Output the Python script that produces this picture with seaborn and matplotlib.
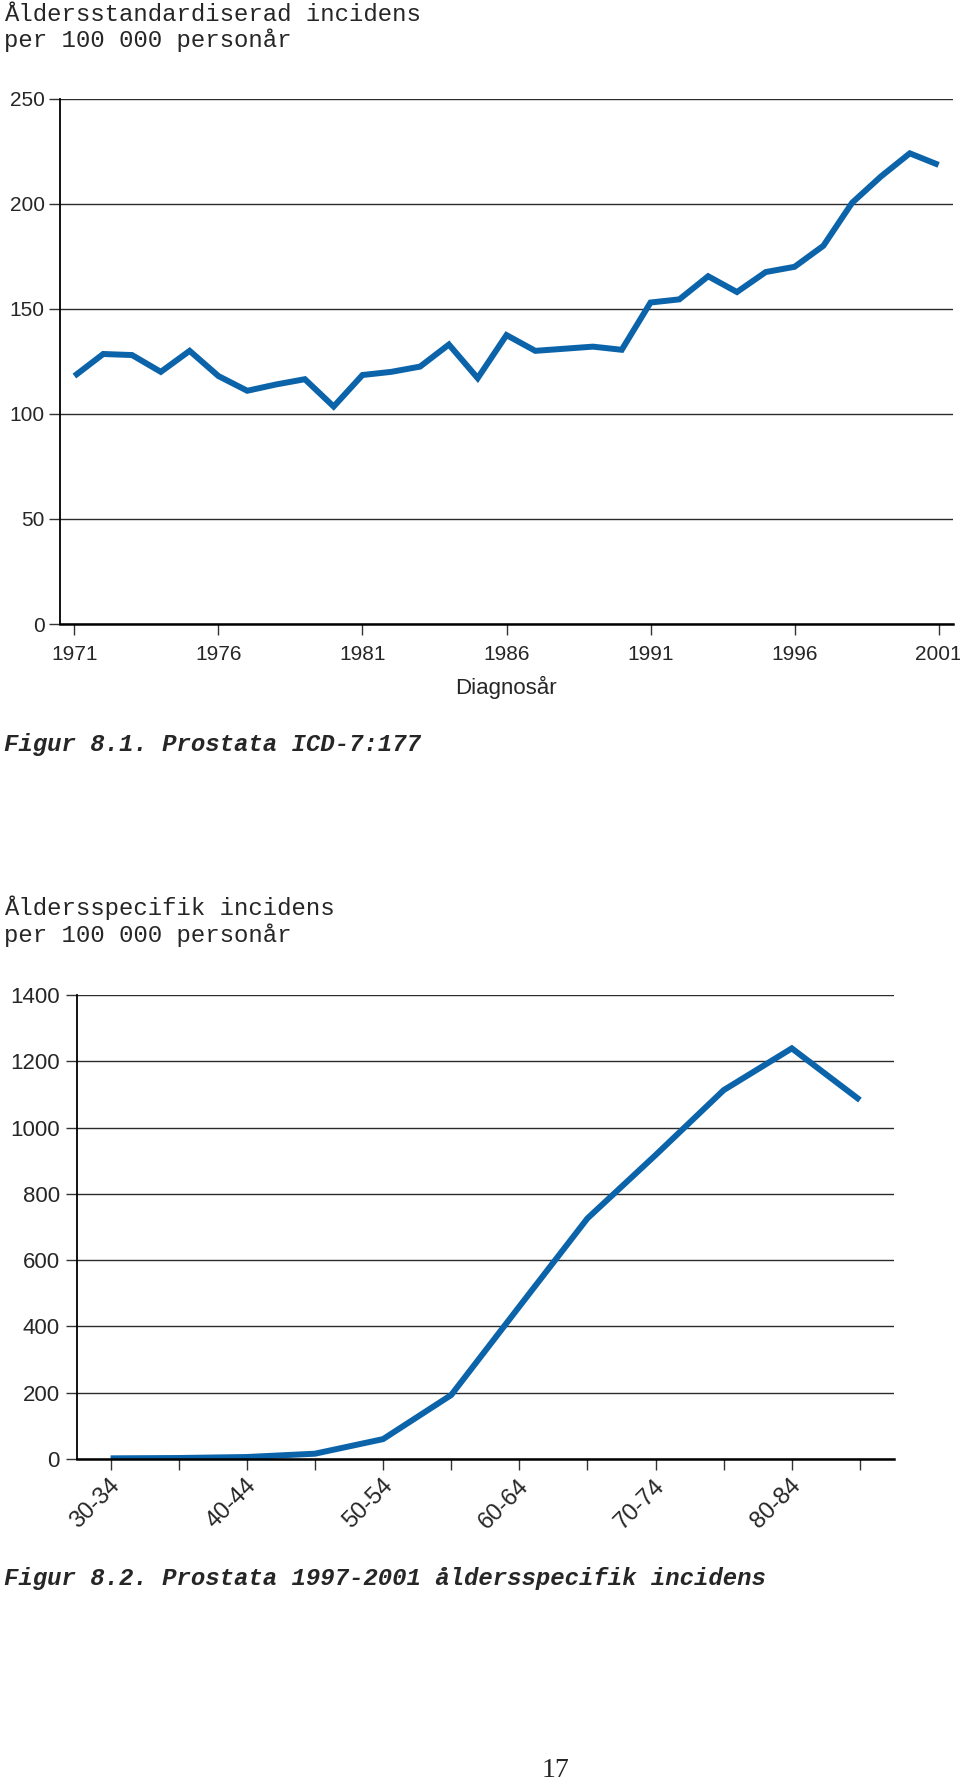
import matplotlib
matplotlib.use("Agg")
import matplotlib.pyplot as plt
import matplotlib.transforms as mtransforms
import seaborn as sns
import pandas as pd
import numpy as np

# ---------------- data ----------------
years = list(range(1971, 2002))
incidence_std = [118, 128.5, 128, 120, 130, 118, 111, 114, 116.5, 103.5,
                 118.5, 120, 122.5, 133, 117, 137.5, 130, 131, 132, 130.5,
                 153, 154.5, 165.5, 158, 167.5, 170, 180, 200.5, 213, 224, 218.5]
year_ticks = [1971, 1976, 1981, 1986, 1991, 1996, 2001]
top_yticks = [0, 50, 100, 150, 200, 250]

age_groups = ["30-34", "35-39", "40-44", "45-49", "50-54", "55-59",
              "60-64", "65-69", "70-74", "75-79", "80-84", "85+"]
incidence_age = [2, 3, 6, 16, 60, 193, 460, 726, 917, 1113, 1239, 1083]
bottom_yticks = [0, 200, 400, 600, 800, 1000, 1200, 1400]

title1 = ["Åldersstandardiserad incidens", "per 100 000 personår"]
title2 = ["Åldersspecifik incidens", "per 100 000 personår"]
caption1 = "Figur 8.1. Prostata ICD-7:177"
caption2 = "Figur 8.2. Prostata 1997-2001 åldersspecifik incidens"
xlabel1 = "Diagnosår"
page_no = "17"

# ---------------- style ----------------
sns.set_style("white")
plt.rcParams["font.family"] = ["Liberation Sans", "DejaVu Sans"]

W, H = 960, 1780
fig = plt.figure(figsize=(W / 100, H / 100), dpi=100)
LINE_COLOR = "#0b63a9"
GRID_COLOR = "#2b2b2b"
MONO = ["Liberation Mono", "DejaVu Sans Mono"]
MONO_SIZE = 17.3


def fx(px):
    return px / W


def fy(py):
    return 1 - py / H


def style_axes(ax, ysize, ylen_pad, xpad):
    for s in ["top", "right"]:
        ax.spines[s].set_visible(False)
    ax.spines["left"].set_color("black")
    ax.spines["left"].set_linewidth(1.3)
    ax.spines["bottom"].set_color("black")
    ax.spines["bottom"].set_linewidth(1.8)
    ax.yaxis.grid(True, color=GRID_COLOR, linewidth=1.0)
    ax.xaxis.grid(False)
    ax.set_axisbelow(True)
    ax.tick_params(axis="y", direction="out", length=8, width=1.0,
                   color="#333333", pad=ylen_pad, labelsize=ysize,
                   left=True)
    ax.tick_params(axis="x", direction="out", length=8, width=1.0,
                   color="#333333", pad=xpad, labelsize=ysize, bottom=True)
    ax.set_xlabel("")
    ax.set_ylabel("")


# ---------------- top chart ----------------
ax1 = fig.add_axes([fx(60), fy(624), fx(953) - fx(60), (624 - 98.7) / H])
df1 = pd.DataFrame({"year": years, "value": incidence_std})
sns.lineplot(data=df1, x="year", y="value", ax=ax1, color=LINE_COLOR,
             linewidth=4.3, solid_capstyle="butt", solid_joinstyle="miter")
ax1.set_xlim(1970.5, 2001.5)
ax1.set_ylim(0, 250)
ax1.set_xticks(year_ticks)
ax1.set_xticklabels([str(y) for y in year_ticks])
ax1.set_yticks(top_yticks)
style_axes(ax1, 15, 3, 7)

fig.text(fx(506), fy(694), xlabel1, ha="center", va="baseline",
         fontsize=16)

fig.text(fx(4), fy(20.7), title1[0], family=MONO, fontsize=MONO_SIZE,
         va="baseline", ha="left")
fig.text(fx(4), fy(46.7), title1[1], family=MONO, fontsize=MONO_SIZE,
         va="baseline", ha="left")
fig.text(fx(4), fy(750.7), caption1, family=MONO, fontsize=MONO_SIZE,
         fontweight="bold", fontstyle="italic", va="baseline", ha="left")

# ---------------- bottom chart ----------------
ax2 = fig.add_axes([fx(76.5), fy(1459), fx(894) - fx(76.5), (1459 - 995) / H])
df2 = pd.DataFrame({"age": age_groups, "value": incidence_age})
sns.lineplot(data=df2, x="age", y="value", ax=ax2, color=LINE_COLOR,
             linewidth=4.3, solid_capstyle="butt", solid_joinstyle="miter",
             sort=False)
ax2.set_xlim(-0.5, len(age_groups) - 0.5)
ax2.set_ylim(0, 1400)
ax2.set_yticks(bottom_yticks)
ax2.set_xticks(range(len(age_groups)))
ax2.set_xticklabels([g if i % 2 == 0 else "" for i, g in enumerate(age_groups)])
style_axes(ax2, 16, 4, 9)
ax2.tick_params(axis="x", labelsize=17)
shift = mtransforms.ScaledTranslation(6 / 100, 0, fig.dpi_scale_trans)
for lab in ax2.get_xticklabels():
    lab.set_rotation(45)
    lab.set_ha("right")
    lab.set_va("center")
    lab.set_rotation_mode("anchor")
    lab.set_transform(lab.get_transform() + shift)

fig.text(fx(4), fy(915), title2[0], family=MONO, fontsize=MONO_SIZE,
         va="baseline", ha="left")
fig.text(fx(4), fy(941.7), title2[1], family=MONO, fontsize=MONO_SIZE,
         va="baseline", ha="left")
fig.text(fx(4), fy(1585), caption2, family=MONO, fontsize=MONO_SIZE,
         fontweight="bold", fontstyle="italic", va="baseline", ha="left")

fig.text(fx(555), fy(1777), page_no, family=["Liberation Serif", "DejaVu Serif"],
         fontsize=20, ha="center", va="baseline")

fig.savefig("out.png", dpi=100)
